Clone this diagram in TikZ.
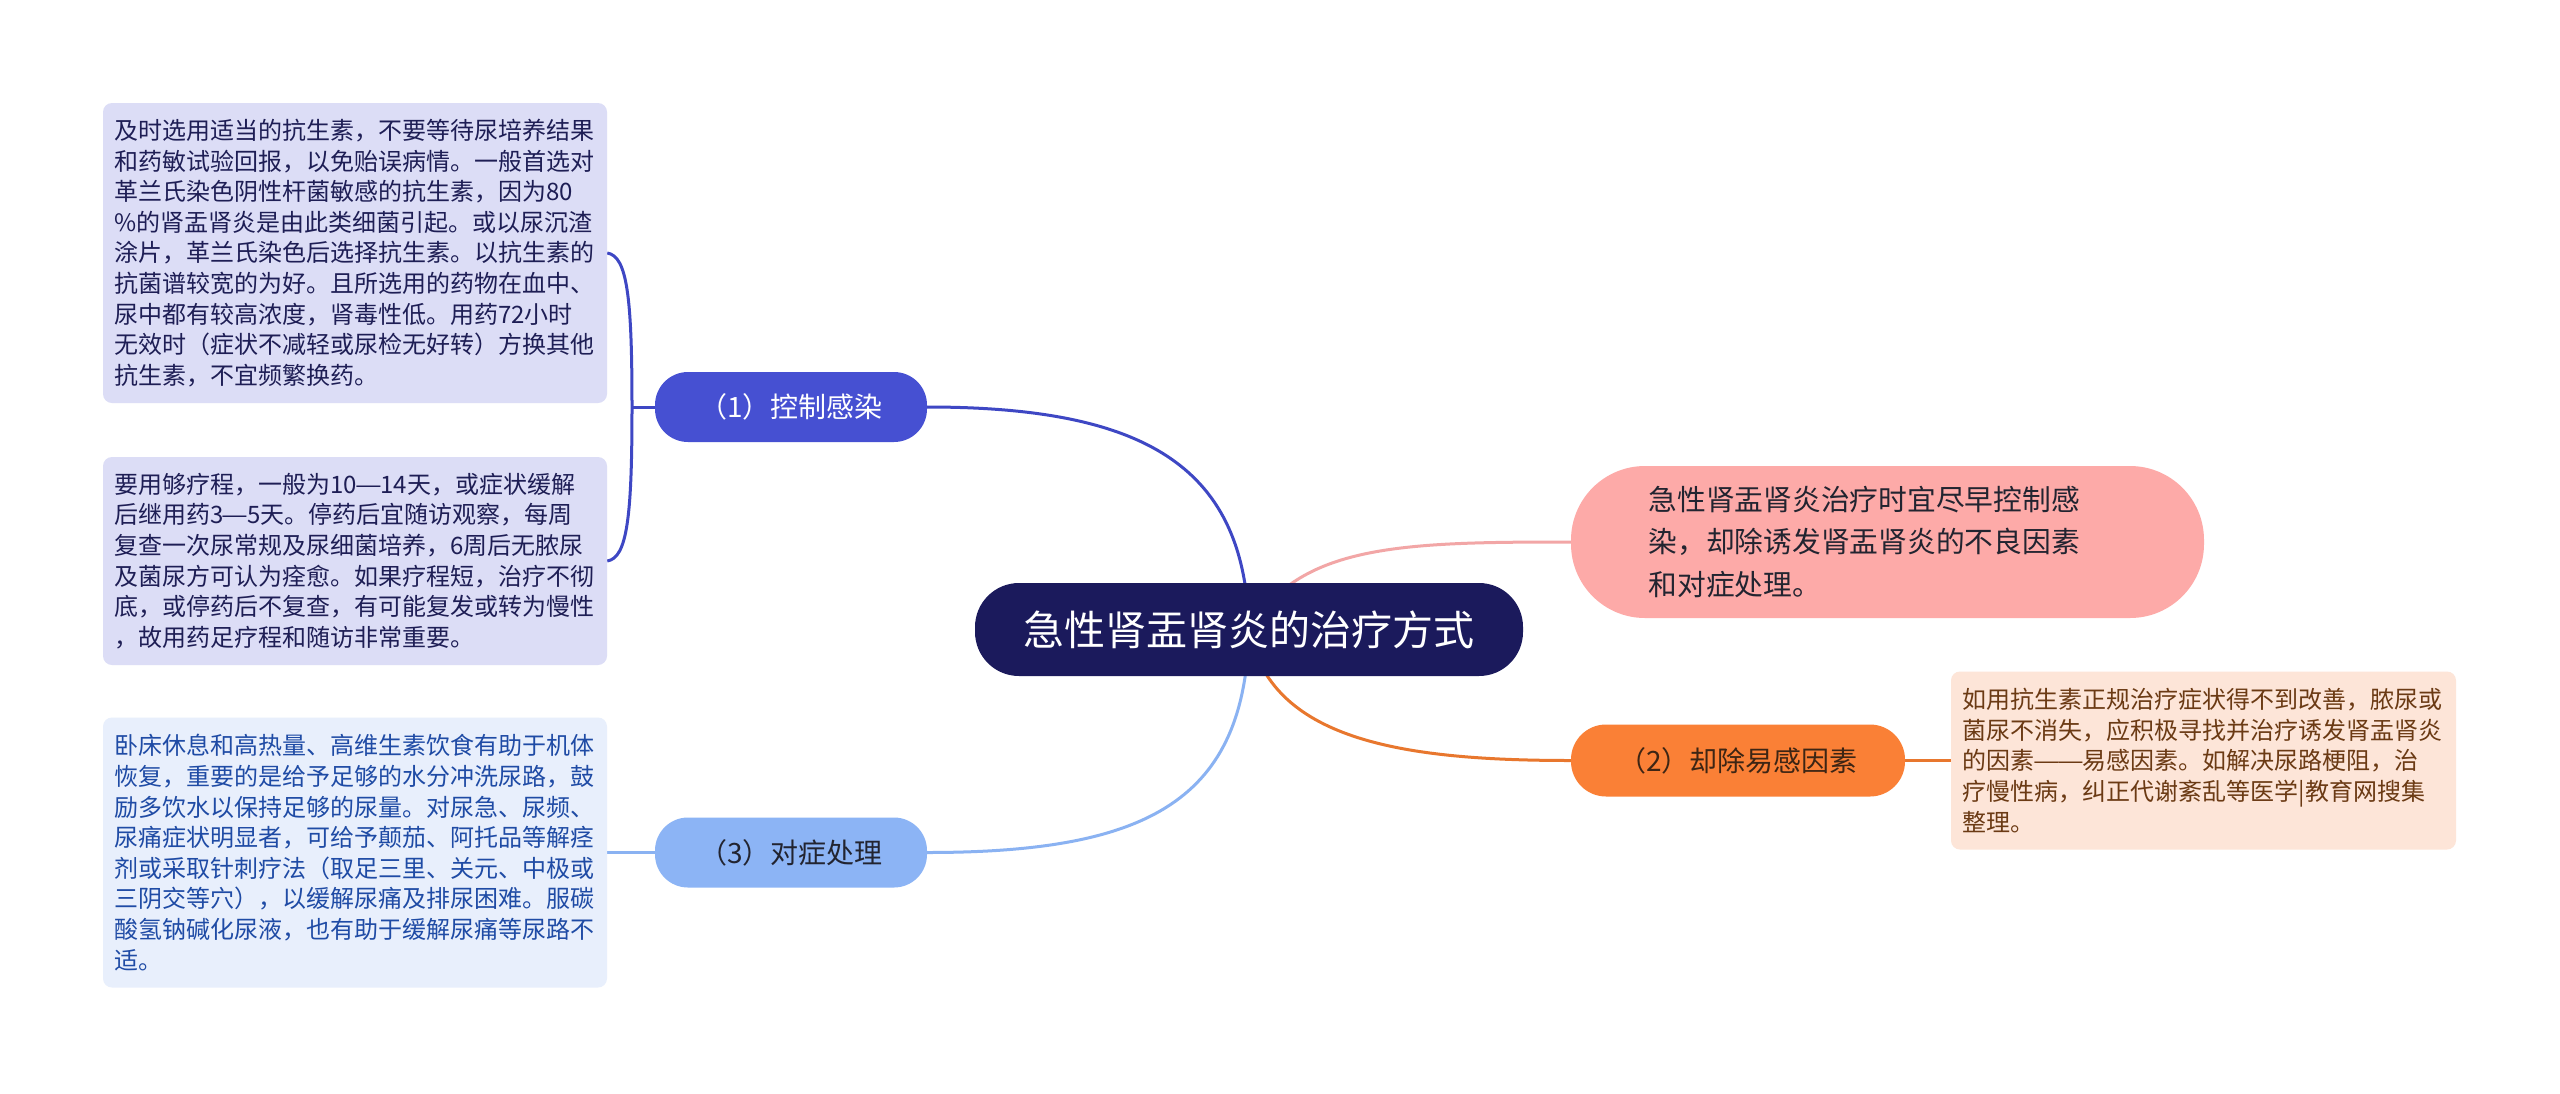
\documentclass[tikz,border=0pt]{standalone}
\usepackage{fontspec}
\usepackage{graphicx}
\setmainfont{Noto Sans CJK SC}
\usetikzlibrary{calc}
\pgfdeclarelayer{bg}
\pgfdeclarelayer{lines}
\pgfsetlayers{bg,lines,main}
\definecolor{cnavy}{HTML}{1B1A5C}
\definecolor{cblue}{HTML}{4650D2}
\definecolor{cblueline}{HTML}{3E47C4}
\definecolor{clav}{HTML}{DCDDF6}
\definecolor{clavtext}{HTML}{1E1E55}
\definecolor{clight}{HTML}{8CB4F5}
\definecolor{clightline}{HTML}{8AB2F2}
\definecolor{clightbox}{HTML}{E8EFFC}
\definecolor{clighttext}{HTML}{1F4BA5}
\definecolor{cpink}{HTML}{FDAAA8}
\definecolor{cpinkline}{HTML}{F2A6A6}
\definecolor{corange}{HTML}{FA8036}
\definecolor{corangeline}{HTML}{E8772E}
\definecolor{cpeach}{HTML}{FDE5D8}
\definecolor{cpeachtext}{HTML}{6B3A14}
\definecolor{cdark}{HTML}{222430}
\definecolor{cbrown}{HTML}{3D2514}
\newcommand{\emd}{\makebox[1em]{\scalebox{1.25}[1]{—}}}
\begin{document}
\begin{tikzpicture}[x=1pt,y=-1pt,
  central/.style={fill=cnavy, text=white, rounded corners=44pt, minimum width=548pt, minimum height=93pt, inner sep=0pt, font=\fontsize{41pt}{50pt}\selectfont},
  branch/.style={rounded corners=33pt, minimum width=272pt, minimum height=70pt, inner sep=0pt, font=\fontsize{28pt}{34pt}\selectfont},
  notebox/.style={rounded corners=9pt, minimum width=504pt, text width=482pt, inner xsep=11pt, inner ysep=0pt, align=left, font=\fontsize{24pt}{30.6pt}\selectfont},
  conn/.style={line width=3pt}
]
\begin{pgfonlayer}{bg}
\fill[white] (0,0) rectangle (2560,1093);
\end{pgfonlayer}
\useasboundingbox (0,0) rectangle (2560,1093);

% central
\node[central] (c) at (1249,629.5) {急性肾盂肾炎的治疗方式};

% branches
\node[branch, fill=cblue, text=white] (n1) at (791,407) {（1）控制感染};
\node[branch, fill=clight, text=cdark] (n3) at (791,852.5) {（3）对症处理};
\node[branch, fill=corange, text=cbrown, minimum width=334pt, minimum height=72pt, rounded corners=35pt] (n2) at (1738,760.5) {（2）却除易感因素};
\node[fill=cpink, text=cdark, rounded corners=74pt, minimum width=633pt, minimum height=152pt, text width=478pt, align=left, inner sep=0pt, font=\fontsize{28.75pt}{42.5pt}\selectfont] (pk) at (1887.5,542) {急性肾盂肾炎治疗时宜尽早控制感\\染，却除诱发肾盂肾炎的不良因素\\和对症处理。};

% note boxes
\node[notebox, fill=clav, text=clavtext, minimum height=300pt] (t1) at (355,253) {及时选用适当的抗生素，不要等待尿培养结果\\和药敏试验回报，以免贻误病情。一般首选对\\革兰氏染色阴性杆菌敏感的抗生素，因为80\\\%的肾盂肾炎是由此类细菌引起。或以尿沉渣\\涂片，革兰氏染色后选择抗生素。以抗生素的\\抗菌谱较宽的为好。且所选用的药物在血中、\\尿中都有较高浓度，肾毒性低。用药72小时\\无效时（症状不减轻或尿检无好转）方换其他\\抗生素，不宜频繁换药。};
\node[notebox, fill=clav, text=clavtext, minimum height=208pt] (t2) at (355,561) {要用够疗程，一般为10\emd14天，或症状缓解\\后继用药3\emd5天。停药后宜随访观察，每周\\复查一次尿常规及尿细菌培养，6周后无脓尿\\及菌尿方可认为痊愈。如果疗程短，治疗不彻\\底，或停药后不复查，有可能复发或转为慢性\\，故用药足疗程和随访非常重要。};
\node[notebox, fill=clightbox, text=clighttext, minimum height=270pt] (t3) at (355,852.5) {卧床休息和高热量、高维生素饮食有助于机体\\恢复，重要的是给予足够的水分冲洗尿路，鼓\\励多饮水以保持足够的尿量。对尿急、尿频、\\尿痛症状明显者，可给予颠茄、阿托品等解痉\\剂或采取针刺疗法（取足三里、关元、中极或\\三阴交等穴），以缓解尿痛及排尿困难。服碳\\酸氢钠碱化尿液，也有助于缓解尿痛等尿路不\\适。};
\node[notebox, fill=cpeach, text=cpeachtext, minimum height=178pt, minimum width=505pt] (t4) at (2203.5,760.5) {如用抗生素正规治疗症状得不到改善，脓尿或\\菌尿不消失，应积极寻找并治疗诱发肾盂肾炎\\的因素\emd\emd 易感因素。如解决尿路梗阻，治\\疗慢性病，纠正代谢紊乱等医学|教育网搜集\\整理。};

\coordinate (bm) at (632,407);

\begin{pgfonlayer}{lines}
\draw[conn, cblueline] (c.center) .. controls ($(c.center)+(-4,-160)$) and ($(n1.east)+(223,0)$) .. (n1.east);
\draw[conn, clightline] (c.center) .. controls ($(c.center)+(-4,170)$) and ($(n3.east)+(223,0)$) .. (n3.east);
\draw[conn, cpinkline] (c.center) .. controls ($(c.center)+(51,-85)$) and ($(pk.west)+(-171,0)$) .. (pk.west);
\draw[conn, corangeline] (c.center) .. controls ($(c.center)+(21,110)$) and ($(n2.west)+(-171,0)$) .. (n2.west);
\draw[conn, cblueline] (n1.west) -- (bm);
\draw[conn, cblueline] (t1.east) .. controls ($(t1.east)+(20,3)$) and ($(bm)+(0,-110)$) .. (bm) .. controls ($(bm)+(0,110)$) and ($(t2.east)+(20,-3)$) .. (t2.east);
\draw[conn, clightline] (n3.west) -- (t3.east);
\draw[conn, corangeline] (n2.east) -- (t4.west);
\end{pgfonlayer}
\end{tikzpicture}
\end{document}
